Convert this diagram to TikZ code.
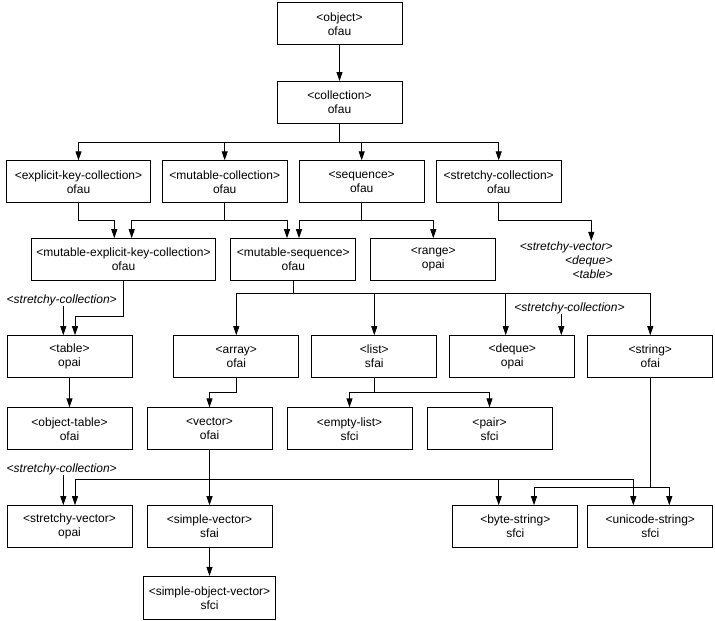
\documentclass[tikz,border=0pt]{standalone}
\usepackage{fontspec}
\setmainfont{Liberation Sans}
\usetikzlibrary{arrows.meta,positioning}

\begin{document}
\begin{tikzpicture}[
  x=1pt, y=-1pt,
  font=\fontsize{12pt}{14pt}\selectfont,
  cls/.style={rectangle, draw=black, line width=1pt, align=center,
    minimum width=125pt, minimum height=42pt, inner sep=2pt},
  note/.style={font=\fontsize{12pt}{14pt}\selectfont\itshape, inner sep=0.5pt,
    align=right},
  link/.style={-{Triangle[length=9pt,width=6pt]}, line width=0.9pt, draw=black},
  node distance=11pt,
]
\useasboundingbox (0,0) rectangle (715,621);
% classes
\node[cls] (obj) at (339.5,23.8) {<object>\\ofau};
\node[cls, below=35.7pt of obj] (coll) {<collection>\\ofau};
\node[cls, minimum width=143.4pt] (eko) at (78.5,181.8) {<explicit-key-collection>\\ofau};
\node[cls, right=of eko] (mcoll) {<mutable-collection>\\ofau};
\node[cls, right=of mcoll] (seq) {<sequence>\\ofau};
\node[cls, right=of seq] (scoll) {<stretchy-collection>\\ofau};
\node[cls, minimum width=184.6pt] (meck) at (123.5,259.7) {<mutable-explicit-key-collection>\\ofau};
\node[cls, right=14pt of meck] (mseq) {<mutable-sequence>\\ofau};
\node[cls, right=14pt of mseq] (range) {<range>\\opai};
\node[cls] (table) at (69.5,356.7) {<table>\\opai};
\node[cls] (array) at (236.3,356.7) {<array>\\ofai};
\node[cls, right=12pt of array] (list) {<list>\\sfai};
\node[cls, right=12pt of list] (deque) {<deque>\\opai};
\node[cls, right=12pt of deque] (string) {<string>\\ofai};
\node[cls] (otable) at (69.5,428.8) {<object-table>\\ofai};
\node[cls, right=14pt of otable] (vector) {<vector>\\ofai};
\node[cls, right=14pt of vector] (elist) {<empty-list>\\sfci};
\node[cls, right=14pt of elist] (pair) {<pair>\\sfci};
\node[cls] (stv) at (69.5,526.7) {<stretchy-vector>\\opai};
\node[cls, right=14pt of stv] (svec) {<simple-vector>\\sfai};
\node[cls] (bstr) at (515.3,526.7) {<byte-string>\\sfci};
\node[cls, right=9pt of bstr] (ustr) {<unicode-string>\\sfci};
\node[cls, below=27.7pt of svec, minimum width=131.4pt, minimum height=43pt] (sov) {<simple-object-vector>\\sfci};
% notes
\node[note, anchor=east] (impl) at (613.3,260) {<stretchy-vector>\\<deque>\\<table>};
\node[note] (sc1) at (61.7,300) {<stretchy-collection>};
\node[note] (sc2) at (569.5,308) {<stretchy-collection>};
\node[note] (sc3) at (61.7,469) {<stretchy-collection>};
% links
\draw[link] (obj) -- (coll);
\draw[link] (coll.south) -- ++(0,18) -| (eko.north);
\draw[link] (coll.south) -- ++(0,18) -| (mcoll.north);
\draw[link] (coll.south) -- ++(0,18) -| (seq.north);
\draw[link] (coll.south) -- ++(0,18) -| (scoll.north);
\draw[link] (eko.south) -- ++(0,16.7) -| ([xshift=-9.2pt]meck.north);
\draw[link] (mcoll.south) -- ++(0,16.7) -| ([xshift=8.2pt]meck.north);
\draw[link] (mcoll.south) -- ++(0,16.7) -| ([xshift=-6.3pt]mseq.north);
\draw[link] (seq.south) -- ++(0,16.7) -| ([xshift=5.7pt]mseq.north);
\draw[link] (seq.south) -- ++(0,16.7) -| (range.north);
\draw[link] (scoll.south) -- ++(0,16.7) -| ([xshift=-22pt]impl.north east);
\draw[link] (meck.south) -- ++(0,35.7) -| ([xshift=5.5pt]table.north);
\draw[link] ([xshift=-6.2pt]table.north |- sc1.south) -- ([xshift=-6.2pt]table.north);
\draw[link] (mseq.south) -- ++(0,12.3) -| (array.north);
\draw[link] (mseq.south) -- ++(0,12.3) -| (list.north);
\draw[link] (mseq.south) -- ++(0,12.3) -| ([xshift=-6.6pt]deque.north);
\draw[link] (mseq.south) -- ++(0,12.3) -| (string.north);
\draw[link] ([xshift=49pt]deque.north |- sc2.south) -- ([xshift=49pt]deque.north);
\draw[link] (table) -- (otable);
\draw[link] (array.south) -- ++(0,14) -| (vector.north);
\draw[link] (list.south) -- ++(0,14) -| (elist.north);
\draw[link] (list.south) -- ++(0,14) -| (pair.north);
\draw[link] (vector) -- (svec);
\draw[link] (vector.south) -- ++(0,29) -| ([xshift=5.5pt]stv.north);
\draw[link] (vector.south) -- ++(0,29) -| ([xshift=-16.6pt]bstr.north);
\draw[link] (vector.south) -- ++(0,29) -| ([xshift=-17pt]ustr.north);
\draw[link] ([xshift=-6.2pt]stv.north |- sc3.south) -- ([xshift=-6.2pt]stv.north);
\draw[link] (string.south) -- ++(0,109) -| ([xshift=18.7pt]bstr.north);
\draw[link] (string.south) -- ++(0,109) -| ([xshift=19pt]ustr.north);
\draw[link] (svec) -- (sov);
\end{tikzpicture}
\end{document}
